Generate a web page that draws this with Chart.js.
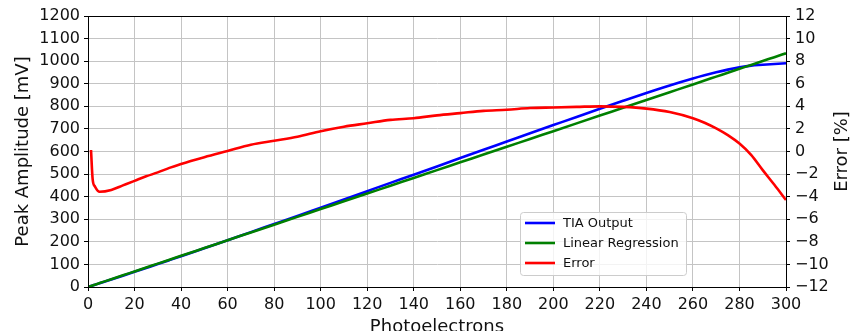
<!DOCTYPE html>
<html>
<head>
<meta charset="utf-8">
<script src="https://cdn.jsdelivr.net/npm/chart.js@4/dist/chart.umd.min.js"></script>
<style>
  html, body { margin: 0; padding: 0; background: #fff; }
  canvas { display: block; }
</style>
</head>
<body>
<canvas id="Grafico" width="851" height="331"></canvas>
<script>
// Datos
const Fotoelectrones = [0, 1.3, 2, 3, 5, 10, 15, 20, 25, 30, 35, 40, 50, 60, 70, 80, 90, 100, 110, 120, 130, 140, 150, 160, 170, 180, 190, 200, 210, 220, 230, 240, 250, 260, 265, 270, 275, 280, 285, 290, 295, 300];
const SalidaTIA      = [0, 4.5, 6.7, 10.1, 16.7, 33.4, 50.2, 67.2, 84.4, 101.6, 119.0, 136.5, 171.6, 207.1, 243.0, 278.6, 314.5, 351.2, 387.8, 424.4, 461.0, 497.2, 534.0, 570.8, 607.6, 644.0, 680.7, 716.9, 753.1, 789.4, 824.8, 859.5, 892.7, 923.5, 937.6, 950.6, 962.5, 972.8, 980.3, 984.0, 987.7, 990.5];
const Regresion      = [0, 4.5, 6.9, 10.4, 17.3, 34.5, 51.8, 69.0, 86.3, 103.5, 120.8, 138.0, 172.5, 207.0, 241.5, 276.0, 310.5, 345.0, 379.5, 414.0, 448.5, 483.0, 517.5, 552.0, 586.5, 621.0, 655.5, 690.0, 724.5, 759.0, 793.5, 828.0, 862.5, 897.0, 914.3, 931.5, 948.8, 966.0, 983.3, 1000.5, 1017.8, 1035.0];
const ErrorPct       = [null, 0.13, -2.46, -3.1, -3.56, -3.4, -3.0, -2.6, -2.2, -1.85, -1.45, -1.1, -0.5, 0.05, 0.6, 0.95, 1.3, 1.8, 2.2, 2.5, 2.8, 2.95, 3.2, 3.4, 3.6, 3.7, 3.85, 3.9, 3.95, 4.0, 3.95, 3.8, 3.5, 2.95, 2.55, 2.05, 1.45, 0.7, -0.3, -1.65, -2.95, -4.3];

const Series = [
  { Nombre: 'TIA Output',        Color: '#0000ff', Valores: SalidaTIA, Eje: 'y',  Orden: 3 },
  { Nombre: 'Linear Regression', Color: '#008000', Valores: Regresion, Eje: 'y',  Orden: 2 },
  { Nombre: 'Error',             Color: '#ff0000', Valores: ErrorPct,  Eje: 'y1', Orden: 1 }
];

const Fuente   = 'DejaVu Sans';
const ColorTxt = '#111';
const Menos    = V => String(V).replace('-', '\u2212');

// Marco, titulos de ejes y leyenda dentro del area
const PluginExtras = {
  id: 'Extras',
  afterDraw(Ch) {
    const { ctx, chartArea: A } = Ch;
    ctx.save();
    ctx.strokeStyle = '#000';
    ctx.lineWidth = 1;
    ctx.strokeRect(Math.round(A.left) + 0.5, Math.round(A.top) + 0.5, Math.round(A.right - A.left), Math.round(A.bottom - A.top));

    ctx.fillStyle = ColorTxt;
    ctx.font = `18px "${Fuente}"`;
    ctx.textAlign = 'center';
    ctx.textBaseline = 'alphabetic';
    ctx.fillText('Photoelectrons', (A.left + A.right) / 2, 332);

    ctx.textBaseline = 'middle';
    ctx.save();
    ctx.translate(23, (A.top + A.bottom) / 2);
    ctx.rotate(-Math.PI / 2);
    ctx.fillText('Peak Amplitude [mV]', 0, 0);
    ctx.restore();

    ctx.save();
    ctx.translate(842, (A.top + A.bottom) / 2);
    ctx.rotate(-Math.PI / 2);
    ctx.fillText('Error [%]', 0, 0);
    ctx.restore();

    // Leyenda
    const X0 = 520.5, Y0 = 212.5, An = 166, Al = 63, R = 3;
    ctx.beginPath();
    ctx.roundRect(X0, Y0, An, Al, R);
    ctx.fillStyle = 'rgba(255,255,255,0.8)';
    ctx.fill();
    ctx.strokeStyle = '#cccccc';
    ctx.lineWidth = 1;
    ctx.stroke();

    ctx.font = `13px "${Fuente}"`;
    ctx.textAlign = 'left';
    ctx.textBaseline = 'middle';
    Series.forEach((S, I) => {
      const Y = 223 + I * 20;
      ctx.beginPath();
      ctx.moveTo(525, Y);
      ctx.lineTo(555, Y);
      ctx.strokeStyle = S.Color;
      ctx.lineWidth = 2.6;
      ctx.stroke();
      ctx.fillStyle = ColorTxt;
      ctx.fillText(S.Nombre, 563, Y + 0.5);
    });
    ctx.restore();
  }
};

new Chart(document.getElementById('Grafico').getContext('2d'), {
  type: 'line',
  data: {
    datasets: Series.map(S => ({
      label: S.Nombre,
      data: Fotoelectrones.map((X, I) => ({ x: X, y: S.Valores[I] })),
      borderColor: S.Color,
      borderWidth: 2.6,
      pointRadius: 0,
      fill: false,
      cubicInterpolationMode: 'monotone',
      yAxisID: S.Eje,
      order: S.Orden
    }))
  },
  options: {
    responsive: false,
    animation: false,
    events: [],
    layout: { padding: { top: 16, left: 0, right: 0, bottom: 0 }, autoPadding: false },
    plugins: { legend: { display: false }, tooltip: { enabled: false } },
    scales: {
      x: {
        type: 'linear', min: 0, max: 300,
        afterFit: S => { S.height = 44; },
        grid: { color: '#c4c4c4', lineWidth: 1, tickLength: 4, tickColor: '#000' },
        border: { color: '#000' },
        ticks: { stepSize: 20, maxRotation: 0, padding: 4, color: ColorTxt, font: { family: Fuente, size: 16 }, callback: V => String(V) }
      },
      y: {
        type: 'linear', position: 'left', min: 0, max: 1200,
        afterFit: S => { S.width = 88; },
        grid: { color: '#c4c4c4', lineWidth: 1, tickLength: 4, tickColor: '#000' },
        border: { color: '#000' },
        ticks: { stepSize: 100, padding: 4, color: ColorTxt, font: { family: Fuente, size: 16 }, callback: V => String(V) }
      },
      y1: {
        type: 'linear', position: 'right', min: -12, max: 12,
        afterFit: S => { S.width = 65; },
        grid: { drawOnChartArea: false, tickLength: 4, tickColor: '#000' },
        border: { color: '#000' },
        ticks: { stepSize: 2, padding: 5, color: ColorTxt, font: { family: Fuente, size: 16 }, callback: V => Menos(V) }
      }
    }
  },
  plugins: [PluginExtras]
});
</script>
</body>
</html>
